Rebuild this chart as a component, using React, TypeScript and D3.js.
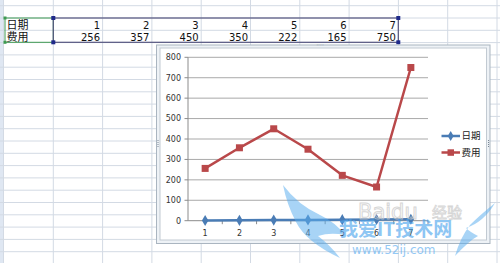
import React from 'react';
import * as d3 from 'd3';

const categories = ['1', '2', '3', '4', '5', '6', '7'];
const dateValues = [1, 2, 3, 4, 5, 6, 7];
const costValues = [256, 357, 450, 350, 222, 165, 750];
const yTicks = [0, 100, 200, 300, 400, 500, 600, 700, 800];
const seriesNames = ['日期', '费用'];

const W = 500;
const H = 263;

export default function App() {
  const x = d3.scaleBand<string>().domain(categories).range([188, 428]);
  const y = d3.scaleLinear().domain([0, 800]).range([220.7, 57.3]);
  const cx = (c: string) => (x(c) as number) + x.bandwidth() / 2;

  const line = d3
    .line<number>()
    .x((_, i) => cx(categories[i]))
    .y((v) => y(v));

  // spreadsheet grid
  const colLines = d3.range(0, 10).map((k) => 53.3 + 49.3 * k);
  colLines.unshift(3.5);
  const rowLines = d3.range(0, 21).map((k) => 5.7 + 12.3 * k);

  const cellFont = "'Noto Sans CJK SC', 'DejaVu Sans', sans-serif";
  const chartFont = "'DejaVu Sans', 'Noto Sans CJK SC', sans-serif";
  const blue = '#4a7cb5';
  const red = '#b9484a';

  const tableRight = colLines.slice(2, 9);

  return (
    <svg width={W} height={H} style={{ position: 'absolute', left: 0, top: 0 }}>
      <rect x={0} y={0} width={W} height={H} fill="#ffffff" />
      <rect x={0} y={0} width={3.5} height={H} fill="#dfe7f2" />
      {colLines.map((cxl, i) => (
        <line key={'c' + i} x1={cxl} x2={cxl} y1={0} y2={H} stroke="#d3dae4" strokeWidth={1} />
      ))}
      {rowLines.map((ry, i) => (
        <line key={'r' + i} x1={0} x2={W} y1={ry} y2={ry} stroke="#d3dae4" strokeWidth={1} />
      ))}

      {/* table cells */}
      <text x={6.5} y={28.5} fontFamily={cellFont} fontSize={11} fill="#111">{seriesNames[0]}</text>
      <text x={6.5} y={40.5} fontFamily={cellFont} fontSize={11} fill="#111">{seriesNames[1]}</text>
      {categories.map((c, i) => (
        <text key={'t1' + i} x={tableRight[i] - 2.5} y={28.5} textAnchor="end" fontFamily={chartFont} fontSize={10} fill="#111">{c}</text>
      ))}
      {costValues.map((v, i) => (
        <text key={'t2' + i} x={tableRight[i] - 2.5} y={40.5} textAnchor="end" fontFamily={chartFont} fontSize={10} fill="#111">{v}</text>
      ))}
      <rect x={5} y={18} width={48.3} height={24.3} fill="none" stroke="#3f9a52" strokeWidth={1} />
      <rect x={53.3} y={18} width={345} height={24.3} fill="none" stroke="#55557f" strokeWidth={1.2} />
      {[[5, 18], [5, 42.3]].map(([hx, hy], i) => (
        <rect key={'gh' + i} x={hx - 1.5} y={hy - 1.5} width={3} height={3} fill="#3f9a52" />
      ))}
      {[[53.3, 18], [53.3, 42.3], [398.3, 18], [398.3, 42.3]].map(([hx, hy], i) => (
        <rect key={'bh' + i} x={hx - 2} y={hy - 2} width={4} height={4} fill="#1f2a8a" />
      ))}

      {/* chart frame */}
      <rect x={156.5} y={45} width={333.5} height={198.5} fill="#eef2f6" stroke="#aab5c0" strokeWidth={1} />
      <rect x={160} y={48} width={326.5} height={192} fill="#ffffff" stroke="#c2cad2" strokeWidth={1} />
      <text x={320} y={46.5} textAnchor="middle" fontSize={6} fill="#7a8794" fontFamily={chartFont}>····</text>
      <text x={320} y={245} textAnchor="middle" fontSize={6} fill="#7a8794" fontFamily={chartFont}>····</text>
      {[[158, 144], [488.5, 144]].map(([dx, dy], i) => (
        <g key={'vd' + i}>
          {[0, 2, 4, 6].map((o) => (
            <rect key={o} x={dx - 0.5} y={dy - 4 + o} width={1} height={1} fill="#7a8794" />
          ))}
        </g>
      ))}

      {/* gridlines */}
      {yTicks.filter((t) => t > 0).map((t) => (
        <line key={'g' + t} x1={188} x2={428} y1={y(t)} y2={y(t)} stroke="#a9a9a9" strokeWidth={1} />
      ))}
      {/* y axis */}
      <line x1={188} x2={188} y1={y(800)} y2={y(0)} stroke="#8c8c8c" strokeWidth={1} />
      {yTicks.map((t) => (
        <g key={'yt' + t}>
          <line x1={184.5} x2={188} y1={y(t)} y2={y(t)} stroke="#8c8c8c" strokeWidth={1} />
          <text x={181} y={y(t)} dy="0.35em" textAnchor="end" fontFamily={chartFont} fontSize={8} fill="#333">{t}</text>
        </g>
      ))}
      {/* x axis */}
      <line x1={188} x2={428} y1={y(0)} y2={y(0)} stroke="#8c8c8c" strokeWidth={1} />
      {categories.map((c, i) => (
        <line key={'xt' + i} x1={(x(c) as number) + x.bandwidth()} x2={(x(c) as number) + x.bandwidth()} y1={y(0)} y2={y(0) + 3.5} stroke="#8c8c8c" strokeWidth={1} />
      ))}
      {categories.map((c) => (
        <text key={'xl' + c} x={cx(c)} y={233.5} dy="0.35em" textAnchor="middle" fontFamily={chartFont} fontSize={8} fill="#333">{c}</text>
      ))}

      {/* series 费用 */}
      <path d={line(costValues) || ''} fill="none" stroke={red} strokeWidth={2.5} strokeLinejoin="round" />
      {costValues.map((v, i) => (
        <rect key={'cm' + i} x={cx(categories[i]) - 3.5} y={y(v) - 3.5} width={7} height={7} fill={red} />
      ))}
      {/* series 日期 */}
      <path d={line(dateValues) || ''} fill="none" stroke={blue} strokeWidth={2.5} />
      {dateValues.map((v, i) => (
        <path key={'dm' + i} d={d3.symbol(d3.symbolDiamond, 36)() || ''} transform={`translate(${cx(categories[i])},${y(v)})`} fill={blue} />
      ))}

      {/* legend */}
      <line x1={441.5} x2={460} y1={136} y2={136} stroke={blue} strokeWidth={2.5} />
      <path d={d3.symbol(d3.symbolDiamond, 30)() || ''} transform="translate(450.7,136)" fill={blue} />
      <text x={461.5} y={136} dy="0.35em" fontFamily={cellFont} fontSize={9.5} fill="#222">{seriesNames[0]}</text>
      <line x1={441.5} x2={460} y1={152.5} y2={152.5} stroke={red} strokeWidth={2.5} />
      <rect x={447.5} y={149.3} width={6.5} height={6.5} fill={red} />
      <text x={461.5} y={152.5} dy="0.35em" fontFamily={cellFont} fontSize={9.5} fill="#222">{seriesNames[1]}</text>

      {/* watermark */}
      <g opacity={0.75}>
        <text x={358} y={219} fontFamily={chartFont} fontSize={21} fill="none" stroke="#c9c9c9" strokeWidth={1}>Baidu</text>
        <text x={432} y={218} fontFamily={cellFont} fontSize={15} fill="none" stroke="#c9c9c9" strokeWidth={0.8}>经验</text>
        <path d="M 283 185 Q 298 205 320 215 Q 335 222 345 235 Q 330 232 318 236 Q 330 245 340 258 Q 306 242 296 222 Q 287 205 283 185 Z" fill="#5aaef0" opacity={0.7} />
        <path d="M 495 203 Q 480 215 470 225 Q 460 238 455 256 Q 470 240 478 236 Q 470 232 466 228 Q 484 222 495 203 Z" fill="#5aaef0" opacity={0.7} />
        <text x={339} y={236} fontFamily={cellFont} fontSize={19} fontWeight="bold" fill="#4fa6ee" opacity={0.85}>我爱IT技术网</text>
        <text x={352} y={254} fontFamily={chartFont} fontSize={12} fill="#59acf0" opacity={0.85}>www.52ij.com</text>
      </g>
    </svg>
  );
}
